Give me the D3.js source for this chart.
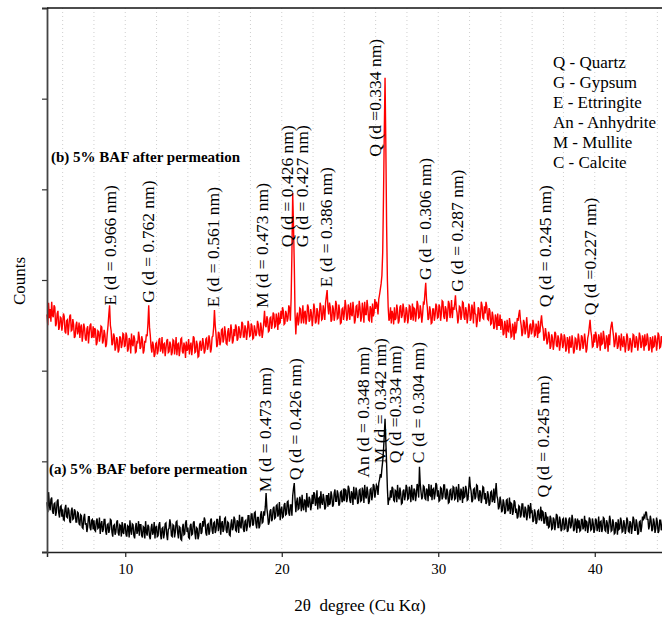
<!DOCTYPE html>
<html><head><meta charset="utf-8">
<script src="https://cdn.jsdelivr.net/npm/d3@7"></script>
<style>html,body{margin:0;padding:0;background:#fff;overflow:hidden}</style>
</head><body><svg id="c" width="662" height="618"></svg>
<script>
// 2-theta sampling of the patterns
const twoThetaStart = 5;
const twoThetaStep = 0.05;

// (b) 5% BAF after permeation (red), counts every 0.05 deg from 5.0 to 45.0 (one row per degree)
const countsAfter = [
 262,250,275,258,268,254,276,261,259,272,270,249,252,263,266,245,248,259,258,244,
 252,263,260,243,241,255,256,239,249,260,262,244,245,257,251,236,238,250,254,240,
 244,253,236,248,251,232,240,252,247,235,233,246,249,230,241,250,252,236,238,249,
 236,247,245,228,231,244,243,232,238,249,248,230,233,245,240,226,229,241,250,262,
 272,250,244,228,230,241,238,222,226,237,234,220,223,238,236,225,229,241,240,226,
 228,242,238,221,224,236,233,219,241,229,227,239,235,220,221,233,230,243,237,224,
 226,238,234,219,222,233,231,240,238,252,272,248,239,226,220,232,228,215,218,230,
 231,218,222,234,236,221,225,237,219,229,230,216,224,233,235,220,221,232,229,217,
 220,234,233,218,226,237,217,229,230,216,223,235,236,221,219,231,227,214,232,222,
 224,235,218,227,231,217,226,238,236,220,221,233,229,215,216,230,233,222,225,236,
 230,219,222,235,236,223,227,239,233,220,224,237,238,248,267,250,240,226,229,243,
 241,228,232,245,246,231,235,249,242,230,229,243,247,232,237,251,244,230,233,246,
 238,251,248,233,235,249,245,236,240,254,252,237,237,250,246,234,242,255,250,238,
 239,252,249,235,236,250,245,238,242,255,251,240,238,253,247,236,243,254,266,250,
 248,260,256,243,244,258,259,246,251,264,262,248,249,263,257,245,264,252,253,266,
 257,270,266,251,252,266,263,254,258,272,269,255,280,330,396,360,318,262,240,258,
 264,250,255,269,268,252,259,272,252,264,266,251,258,273,270,254,256,268,263,249,
 259,274,268,252,254,269,265,251,260,275,271,256,257,272,266,256,275,282,289,270,
 262,275,270,254,256,272,268,255,261,277,273,257,258,273,266,252,253,268,269,256,
 263,278,271,255,258,273,268,256,275,262,260,276,266,252,256,271,272,258,262,277,
 270,254,259,275,267,253,276,262,262,278,270,256,255,271,268,253,274,260,264,279,
 268,276,272,262,279,284,290,296,305,330,390,460,523,450,360,300,270,255,258,270,
 252,266,262,251,270,256,258,273,266,252,255,270,272,258,261,274,268,253,257,270,
 266,252,258,272,271,256,260,274,255,269,268,254,262,277,273,258,259,272,265,253,
 262,275,274,286,297,278,270,256,258,271,266,252,253,268,268,255,261,274,271,258,
 259,273,270,255,263,277,276,260,257,271,268,254,262,277,274,258,265,278,258,270,
 267,274,283,268,264,252,258,271,270,256,262,276,275,259,256,270,266,252,261,274,
 270,255,258,273,267,252,276,263,262,248,255,270,268,254,261,276,272,258,257,271,
 263,276,271,257,256,269,266,251,252,265,260,246,248,262,258,245,263,250,250,262,
 245,257,253,239,241,255,249,236,256,244,243,258,251,237,238,252,247,234,254,241,
 246,258,255,262,267,256,250,238,242,256,253,240,245,259,249,236,238,250,252,240,
 244,256,251,238,239,252,247,236,255,242,243,254,261,250,246,233,236,247,240,229,
 232,243,239,224,227,240,236,223,230,243,241,228,226,239,235,222,229,241,238,225,
 228,240,236,221,224,237,233,219,238,226,226,239,231,219,222,236,235,223,229,241,
 234,222,226,239,237,224,229,241,233,220,224,236,240,248,256,244,238,226,227,240,
 231,243,239,225,228,240,236,222,242,229,230,244,237,224,226,239,235,221,240,228,
 244,250,254,245,238,226,230,242,236,224,227,239,234,222,241,229,226,238,232,220,
 229,241,237,222,224,236,233,220,228,240,239,226,226,238,234,222,230,242,238,225,
 227,239,235,222,240,228,229,241,236,222,224,237,233,220,238,226,227,239,235,222,
 230,242,239,225,226,238,235,223,241,228,229,242,236,223,225,237,233,220,238,227,
 232
];

// (a) 5% BAF before permeation (black)
const countsBefore = [
 55,44,66,52,46,58,60,45,42,53,54,40,44,56,58,43,38,50,51,39,
 47,36,35,48,52,39,38,49,46,34,32,45,49,36,37,47,45,33,33,44,
 43,31,30,41,40,27,26,38,42,30,32,22,28,39,39,27,24,35,36,25,
 35,24,23,34,37,26,27,38,20,30,34,22,25,36,36,23,19,30,31,21,
 25,36,35,22,17,29,30,19,22,33,35,21,18,30,29,17,33,22,20,31,
 31,19,17,29,28,16,35,24,19,31,30,18,15,27,32,20,24,34,18,30,
 30,18,16,28,27,15,34,22,18,30,28,17,14,26,31,19,22,33,15,27,
 29,17,18,30,33,20,14,26,27,15,20,31,32,19,13,25,26,36,31,18,
 17,30,29,16,22,33,34,21,15,28,27,14,13,26,31,19,20,32,35,22,
 27,16,15,29,31,19,20,32,34,21,14,27,26,14,18,30,32,20,22,34,
 28,38,35,21,18,30,31,19,23,35,37,24,20,32,33,21,24,36,36,23,
 29,40,19,31,34,22,25,37,38,24,21,33,32,19,18,30,36,24,27,39,
 36,24,23,35,33,21,41,29,26,38,38,25,22,34,35,23,28,40,40,27,
 30,42,42,29,31,43,44,31,26,38,38,26,29,41,45,32,33,45,40,50,
 65,48,41,30,33,45,47,34,36,48,50,37,38,51,52,39,42,55,35,46,
 50,38,39,52,54,41,42,55,56,43,40,52,52,40,62,70,76,58,44,55,
 60,47,48,61,57,45,63,50,46,58,56,44,65,52,49,61,58,46,51,63,
 53,66,64,51,55,68,47,59,60,48,67,55,52,64,59,47,49,62,62,50,
 65,52,54,67,62,50,52,65,69,56,56,68,64,51,53,66,67,55,57,70,
 56,69,68,55,60,73,70,57,54,67,64,52,72,60,58,71,66,53,55,68,
 69,56,57,71,67,54,74,62,59,72,66,53,56,69,70,57,62,75,73,60,
 66,74,72,63,76,80,86,82,92,100,112,128,147,122,98,70,52,60,57,68,
 60,72,70,57,56,68,67,55,74,62,58,71,65,53,54,67,69,57,62,74,
 71,58,59,72,67,55,74,62,57,70,68,56,63,75,72,60,94,75,66,58,
 61,73,72,59,58,70,68,56,75,63,62,74,57,69,70,58,64,76,74,61,
 68,56,57,71,70,58,61,74,74,60,58,70,66,54,55,68,69,57,60,72,
 71,58,59,72,67,55,75,62,57,70,66,54,72,60,61,73,69,57,58,70,
 83,72,67,55,57,69,70,58,61,74,73,60,56,68,66,54,60,72,71,58,
 65,53,55,67,63,51,53,66,67,55,58,70,54,65,76,62,58,47,50,61,
 56,44,46,58,54,42,44,57,58,45,48,60,42,54,53,41,45,57,55,43,
 48,37,39,51,50,38,41,53,53,40,38,50,47,35,40,52,49,37,54,44,
 45,33,35,47,43,31,33,45,46,35,38,50,34,45,44,32,32,44,40,29,
 39,27,28,40,37,25,26,38,36,24,31,42,40,27,27,39,35,23,25,36,
 37,25,26,38,34,22,24,36,38,26,29,41,35,23,25,37,33,21,37,26,
 35,23,24,36,36,25,28,40,23,34,33,21,27,38,36,24,25,37,32,21,
 25,37,35,23,27,39,22,33,34,22,26,38,37,24,23,35,32,20,28,40,
 35,23,24,36,32,20,21,33,31,19,36,25,26,38,34,22,23,35,31,20,
 26,38,35,23,22,34,32,20,27,39,36,24,24,36,31,19,21,33,34,22,
 28,39,35,40,38,44,44,36,36,25,29,40,35,23,25,37,33,21,26,38,
 33,21,23,35,35,24,27,39,37,25,24,36,31,20,22,34,34,22,27,38,
 30
];

const xTickValues = [10, 20, 30, 40];
const gridValues = [6,8,10,12,14,16,18,20,22,24,26,28,30,32,34,36,38,40,42,44];
const yTickValues = [0, 100, 200, 300, 400, 500, 600];

// peak annotations: 2theta, count at the label foot, text
const peakAngleAfter = [9.03, 11.47, 15.63, 18.72, 20.34, 21.27, 22.83, 25.96, 29.15, 31.18, 36.82, 39.70];
const peakFootAfter  = [272, 275, 270, 269, 336, 336, 292, 436, 300, 287, 270, 261];
const peakTextAfter  = ["E (d = 0.966 nm)", "G (d = 0.762 nm)", "E (d = 0.561 nm)", "M (d = 0.473 nm)",
  "Q (d = 0.426 nm)", "G (d = 0.427 nm)", "E (d = 0.386 nm)", "Q (d =0.334 nm)",
  "G (d = 0.306 nm)", "G (d = 0.287 nm)", "Q (d = 0.245 nm)", "Q (d =0.227 nm)"];

const peakAngleBefore = [18.93, 20.85, 25.21, 26.28, 27.24, 28.73, 36.71];
const peakFootBefore  = [66, 79, 82, 98, 98, 98, 60];
const peakTextBefore  = ["M (d = 0.473 nm)", "Q (d = 0.426 nm)", "An (d = 0.348 nm)", "M (d = 0.342 nm)",
  "Q (d =0.334 nm)", "C (d = 0.304 nm)", "Q (d = 0.245 nm)"];

const legendLines = ["Q - Quartz", "G - Gypsum", "E - Ettringite", "An - Anhydrite", "M - Mullite", "C - Calcite"];
const seriesNames = ["(b) 5% BAF after permeation", "(a) 5% BAF before permeation"];
const seriesColors = ["#ff0000", "#000000"];
const xTitle = "2\u03B8  degree (Cu K\u03B1)";
const yTitle = "Counts";

const serif = "'Liberation Serif','Times New Roman',serif";
const svg = d3.select("#c");
const mLeft = 47, mTop = 8, mBottom = 552;
const x = d3.scaleLinear().domain([5, 45]).range([mLeft, mLeft + 40 * 15.65]);
const y = d3.scaleLinear().domain([0, 600]).range([mBottom, mTop]);

// grid
svg.append("g").selectAll("line").data(gridValues).join("line")
  .attr("x1", d => x(d)).attr("x2", d => x(d))
  .attr("y1", mTop).attr("y2", mBottom)
  .attr("stroke", "#cfcfcf").attr("stroke-width", 1).attr("stroke-dasharray", "1,3");

// series
const toPts = arr => arr.map((v, i) => [twoThetaStart + i * twoThetaStep, v]);
const line = d3.line().x(d => x(d[0])).y(d => y(d[1]));
[countsAfter, countsBefore].forEach((arr, k) => {
  svg.append("path").datum(toPts(arr))
    .attr("d", line).attr("fill", "none")
    .attr("stroke", seriesColors[k]).attr("stroke-width", 1.4)
    .attr("stroke-linejoin", "miter");
});

// axes
const xAxis = svg.append("g").attr("transform", `translate(0,${mBottom})`)
  .call(d3.axisBottom(x).tickValues(xTickValues).tickSize(5).tickPadding(6).tickFormat(d3.format("d")));
xAxis.select(".domain").attr("stroke", "#222").attr("stroke-width", 1.5);
xAxis.selectAll("line").attr("stroke", "#222").attr("stroke-width", 1.2);
xAxis.selectAll("text").attr("font-family", serif).attr("font-size", 15).attr("fill", "#000");

const yAxis = svg.append("g").attr("transform", `translate(${mLeft},0)`)
  .call(d3.axisLeft(y).tickValues(yTickValues).tickSize(5).tickFormat(""));
yAxis.select(".domain").attr("stroke", "#444").attr("stroke-width", 1.8);
yAxis.selectAll("line").attr("stroke", "#333").attr("stroke-width", 1.2);

// top border
svg.append("line").attr("x1", mLeft).attr("x2", 662).attr("y1", mTop).attr("y2", mTop)
  .attr("stroke", "#111").attr("stroke-width", 1.5);

// axis titles
svg.append("text").attr("x", 360).attr("y", 611).attr("text-anchor", "middle")
  .attr("font-family", serif).attr("font-size", 17).style("white-space", "pre").text(xTitle);
svg.append("text").attr("transform", "translate(25,281) rotate(-90)").attr("text-anchor", "middle")
  .attr("font-family", serif).attr("font-size", 17).text(yTitle);

// peak labels
function peakLabels(angles, feet, texts) {
  svg.append("g").selectAll("text").data(texts).join("text")
    .attr("transform", (d, i) => `translate(${x(angles[i])},${y(feet[i])}) rotate(-90)`)
    .attr("dy", "0.35em")
    .attr("font-family", serif).attr("font-size", 17.5).attr("fill", "#000")
    .text(d => d);
}
peakLabels(peakAngleAfter, peakFootAfter, peakTextAfter);
peakLabels(peakAngleBefore, peakFootBefore, peakTextBefore);

// series names
svg.append("text").attr("x", 51).attr("y", 162).attr("font-family", serif)
  .attr("font-size", 15).attr("font-weight", "bold").text(seriesNames[0]);
svg.append("text").attr("x", 49).attr("y", 474).attr("font-family", serif)
  .attr("font-size", 15).attr("font-weight", "bold").text(seriesNames[1]);

// legend
svg.append("g").selectAll("text").data(legendLines).join("text")
  .attr("x", 553).attr("y", (d, i) => 68 + i * 20)
  .attr("font-family", serif).attr("font-size", 17).text(d => d);
</script>
</body></html>
